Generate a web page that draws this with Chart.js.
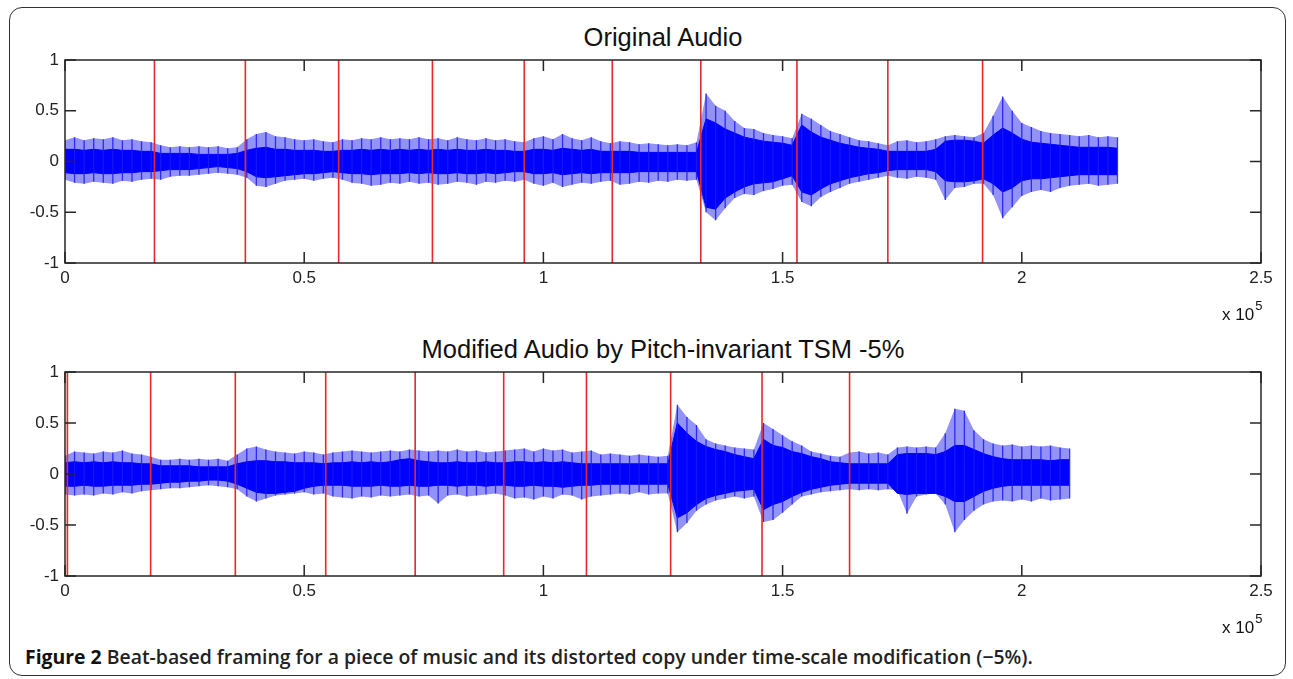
<!DOCTYPE html>
<html>
<head>
<meta charset="utf-8">
<script src="https://cdn.jsdelivr.net/npm/chart.js@4.4.1/dist/chart.umd.min.js"></script>
<style>
  html, body { margin: 0; padding: 0; background: #fff; }
  body { width: 1293px; height: 679px; position: relative; overflow: hidden; font-family: "Liberation Sans", Arial, sans-serif; }
  .frame { position: absolute; left: 9px; top: 7px; width: 1277px; height: 669px; border: 1.5px solid #333; border-radius: 13px; box-sizing: border-box; }
  .panel { position: absolute; left: 0; width: 1293px; height: 312px; }
  .title { position: absolute; left: 65px; width: 1196px; text-align: center; font-size: 25.5px; line-height: 28px; color: #111; }
  .scale { position: absolute; left: 1222px; font-size: 17px; line-height: 20px; color: #111; }
  .scale span { position: relative; top: -10px; font-size: 13px; margin-left: 1px; }
  .caption { position: absolute; left: 25px; top: 644px; font-family: "Open Sans", sans-serif; font-size: 19.4px; line-height: 26px; font-weight: 600; color: #222; white-space: nowrap; }
  .caption b { font-weight: 700; color: #111; }
</style>
</head>
<body>
<div class="frame"></div>
<div class="title" style="top:23px">Original Audio</div>
<div class="title" style="top:335px">Modified Audio by Pitch-invariant TSM -5%</div>
<div class="panel" style="top:0"><canvas id="topChart" width="1293" height="312"></canvas></div>
<div class="panel" style="top:312px"><canvas id="bottomChart" width="1293" height="312"></canvas></div>
<div class="scale" style="top:305px">x 10<span>5</span></div>
<div class="scale" style="top:618px">x 10<span>5</span></div>
<div class="caption"><b>Figure 2</b> Beat-based framing for a piece of music and its distorted copy under time-scale modification (−5%).</div>
<script>
// axes (x in units of 10^5 samples)
const xTicks = [0, 0.5, 1, 1.5, 2, 2.5];
const xTickLabels = ['0', '0.5', '1', '1.5', '2', '2.5'];
const yTicks = [-1, -0.5, 0, 0.5, 1];
const yTickLabels = ['-1', '-0.5', '0', '0.5', '1'];

// waveform envelope read every 0.02 (x 10^5 samples)
const gridStep = 0.02;

// beat positions (red lines)
const origBeats = [0.187, 0.377, 0.572, 0.768, 0.960, 1.144, 1.329, 1.530, 1.720, 1.918];
const tsmBeats = [0.005, 0.179, 0.356, 0.545, 0.732, 0.917, 1.090, 1.266, 1.457, 1.640];

// original audio: spike peaks and solid core
const origHi = [
  .21,.24,.21,.23,.22,.24,.21,.22,.20,.19, .16,.14,.15,.14,.15,.14,.15,.13,.14,.22,
  .27,.29,.25,.24,.22,.21,.22,.20,.19,.22, .21,.23,.22,.24,.22,.23,.22,.24,.22,.23,
  .21,.24,.22,.21,.23,.21,.22,.20,.19,.23, .25,.22,.27,.23,.21,.24,.20,.18,.20,.19,
  .17,.18,.17,.16,.17,.16,.19,.67,.55,.50, .40,.33,.32,.28,.26,.25,.23,.47,.42,.36,
  .30,.27,.24,.21,.20,.18,.16,.20,.21,.19, .20,.22,.25,.26,.25,.24,.28,.45,.64,.50,
  .38,.34,.30,.28,.27,.26,.25,.26,.24,.25,.24
];
const origLo = [
  -.18,-.21,-.22,-.20,-.21,-.22,-.19,-.20,-.18,-.17, -.18,-.15,-.14,-.14,-.13,-.12,-.11,-.12,-.13,-.16,
  -.24,-.25,-.22,-.19,-.18,-.17,-.19,-.17,-.16,-.18, -.21,-.22,-.24,-.23,-.21,-.22,-.20,-.22,-.21,-.23,
  -.22,-.20,-.21,-.23,-.20,-.21,-.19,-.20,-.18,-.22, -.24,-.21,-.25,-.23,-.21,-.22,-.20,-.19,-.23,-.22,
  -.20,-.21,-.19,-.20,-.18,-.19,-.18,-.50,-.58,-.46, -.36,-.32,-.33,-.29,-.27,-.24,-.23,-.40,-.44,-.35,
  -.30,-.26,-.22,-.20,-.18,-.16,-.14,-.16,-.17,-.15, -.16,-.18,-.38,-.26,-.25,-.22,-.22,-.33,-.56,-.45,
  -.34,-.30,-.28,-.30,-.26,-.24,-.23,-.22,-.24,-.23,-.22
];
const origCoreHi = [
  .12,.12,.11,.12,.11,.12,.11,.11,.10,.10, .08,.08,.08,.08,.07,.07,.07,.07,.08,.11,
  .13,.14,.12,.12,.11,.11,.11,.10,.10,.11, .11,.12,.11,.12,.11,.12,.11,.12,.11,.12,
  .11,.12,.11,.11,.12,.11,.11,.10,.10,.12, .12,.11,.13,.12,.11,.12,.10,.10,.10,.10,
  .09,.09,.09,.09,.09,.09,.09,.42,.38,.32, .28,.24,.22,.20,.19,.18,.16,.36,.29,.24,
  .21,.18,.16,.14,.13,.12,.10,.10,.10,.10, .10,.12,.20,.21,.21,.20,.18,.26,.33,.28,
  .22,.19,.18,.17,.16,.15,.14,.14,.14,.14,.13
];
const origCoreLo = [
  -.11,-.12,-.12,-.11,-.12,-.12,-.11,-.11,-.10,-.10, -.09,-.08,-.08,-.08,-.07,-.06,-.05,-.06,-.07,-.10,
  -.15,-.16,-.15,-.14,-.13,-.12,-.12,-.11,-.10,-.11, -.12,-.12,-.13,-.12,-.12,-.12,-.11,-.12,-.11,-.12,
  -.12,-.11,-.12,-.12,-.11,-.12,-.11,-.10,-.10,-.12, -.12,-.11,-.13,-.12,-.11,-.12,-.11,-.11,-.11,-.11,
  -.10,-.10,-.10,-.10,-.10,-.10,-.10,-.45,-.47,-.36, -.30,-.25,-.22,-.21,-.20,-.17,-.14,-.30,-.33,-.27,
  -.22,-.19,-.16,-.14,-.12,-.11,-.09,-.08,-.08,-.08, -.08,-.10,-.19,-.20,-.20,-.19,-.17,-.22,-.30,-.26,
  -.19,-.17,-.17,-.16,-.15,-.14,-.13,-.13,-.13,-.13,-.13
];

// modified audio (TSM -5%)
const tsmHi = [
  .18,.22,.21,.20,.22,.21,.23,.20,.19,.17, .14,.14,.15,.14,.15,.14,.15,.13,.19,.25,
  .27,.24,.22,.21,.20,.22,.21,.19,.21,.22, .23,.22,.21,.22,.23,.22,.24,.23,.22,.23,
  .22,.24,.22,.23,.21,.22,.23,.24,.25,.22, .25,.23,.24,.21,.22,.23,.19,.20,.19,.18,
  .19,.18,.17,.18,.68,.56,.48,.34,.30,.28, .26,.25,.24,.50,.44,.38,.32,.28,.22,.20,
  .18,.17,.21,.22,.20,.21,.19,.26,.27,.26, .27,.26,.40,.64,.62,.43,.34,.30,.28,.29,
  .27,.28,.27,.28,.26,.25
];
const tsmLo = [
  -.20,-.21,-.20,-.21,-.19,-.20,-.18,-.19,-.17,-.16, -.15,-.14,-.14,-.13,-.12,-.11,-.12,-.13,-.15,-.22,
  -.27,-.24,-.21,-.20,-.19,-.18,-.20,-.19,-.22,-.23, -.24,-.22,-.23,-.21,-.22,-.21,-.20,-.22,-.21,-.29,
  -.21,-.20,-.22,-.21,-.20,-.19,-.21,-.24,-.23,-.25, -.22,-.24,-.20,-.21,-.25,-.22,-.21,-.20,-.19,-.20,
  -.18,-.20,-.19,-.19,-.57,-.48,-.36,-.30,-.26,-.24, -.22,-.24,-.22,-.47,-.45,-.38,-.30,-.22,-.20,-.18,
  -.17,-.16,-.15,-.16,-.15,-.16,-.15,-.16,-.39,-.22, -.20,-.19,-.30,-.57,-.45,-.36,-.30,-.27,-.26,-.27,
  -.25,-.27,-.24,-.26,-.25,-.24
];
const tsmCoreHi = [
  .11,.12,.11,.12,.11,.12,.11,.11,.10,.10, .08,.08,.08,.08,.07,.07,.07,.07,.10,.12,
  .13,.13,.12,.12,.11,.11,.11,.10,.11,.11, .12,.11,.12,.11,.12,.14,.15,.13,.12,.11,
  .11,.12,.11,.11,.12,.11,.11,.12,.12,.11, .12,.11,.12,.11,.10,.10,.10,.10,.10,.10,
  .10,.10,.10,.10,.50,.40,.32,.27,.24,.22, .19,.17,.15,.34,.28,.26,.22,.20,.17,.15,
  .12,.11,.10,.10,.10,.10,.10,.19,.20,.20, .20,.19,.22,.28,.28,.24,.20,.17,.15,.14,
  .14,.14,.14,.13,.14,.14
];
const tsmCoreLo = [
  -.12,-.12,-.11,-.12,-.12,-.11,-.11,-.11,-.10,-.10, -.09,-.08,-.08,-.07,-.07,-.06,-.06,-.07,-.10,-.14,
  -.18,-.19,-.19,-.18,-.17,-.14,-.12,-.11,-.11,-.11, -.12,-.12,-.12,-.11,-.12,-.12,-.11,-.12,-.12,-.11,
  -.11,-.12,-.11,-.11,-.12,-.11,-.11,-.12,-.12,-.11, -.12,-.12,-.13,-.12,-.11,-.11,-.10,-.10,-.10,-.10,
  -.10,-.10,-.10,-.10,-.43,-.38,-.30,-.24,-.21,-.19, -.17,-.16,-.15,-.35,-.30,-.27,-.22,-.18,-.15,-.13,
  -.11,-.10,-.09,-.09,-.09,-.09,-.09,-.19,-.20,-.19, -.19,-.19,-.22,-.27,-.27,-.22,-.17,-.14,-.12,-.11,
  -.11,-.11,-.11,-.11,-.11,-.11
];

const blue = '#0000ff';
const fringe = 'rgba(40,40,240,0.5)';
const red = '#e8282b';
const tickFont = { family: 'Liberation Sans', size: 17 };

// MATLAB-style box with inward ticks
const boxPlugin = {
  id: 'matlabBox',
  afterDraw(chart) {
    const { ctx, chartArea: a, scales: { x, y } } = chart;
    const len = 11;
    ctx.save();
    ctx.strokeStyle = '#262626';
    ctx.lineWidth = 1.5;
    ctx.strokeRect(a.left, a.top, a.right - a.left, a.bottom - a.top);
    ctx.beginPath();
    xTicks.forEach(v => {
      const px = x.getPixelForValue(v);
      ctx.moveTo(px, a.bottom); ctx.lineTo(px, a.bottom - len);
      ctx.moveTo(px, a.top); ctx.lineTo(px, a.top + len);
    });
    yTicks.forEach(v => {
      const py = y.getPixelForValue(v);
      ctx.moveTo(a.left, py); ctx.lineTo(a.left + len, py);
      ctx.moveTo(a.right, py); ctx.lineTo(a.right - len, py);
    });
    ctx.stroke();
    ctx.restore();
  }
};

function points(xs, ys) {
  return xs.map((x, i) => ({ x, y: ys[i] }));
}

function makeChart(id, hi, lo, coreHi, coreLo, beats, padBottom) {
  const xs = hi.map((_, i) => i * gridStep);
  const spikes = [];
  xs.forEach((x, i) => {
    spikes.push({ x, y: lo[i] }, { x, y: hi[i] }, { x, y: null });
  });
  const beatLines = [];
  beats.forEach(b => {
    beatLines.push({ x: b, y: -1 }, { x: b, y: 1 }, { x: b, y: null });
  });
  const line = { pointRadius: 0, tension: 0, spanGaps: false };

  return new Chart(document.getElementById(id), {
    type: 'line',
    data: {
      datasets: [
        { ...line, data: beatLines, borderColor: red, borderWidth: 1.6, fill: false, order: 0 },
        { ...line, data: spikes, borderColor: 'rgba(25,25,240,0.85)', borderWidth: 1.3, fill: false, order: 1 },
        { ...line, data: points(xs, coreHi), borderColor: blue, borderWidth: 1, backgroundColor: blue, fill: '+1', order: 2 },
        { ...line, data: points(xs, coreLo), borderColor: blue, borderWidth: 1, fill: false, order: 3 },
        { ...line, data: points(xs, hi), borderWidth: 0, borderColor: 'rgba(0,0,0,0)', backgroundColor: fringe, fill: '+1', order: 4 },
        { ...line, data: points(xs, lo), borderWidth: 0, borderColor: 'rgba(0,0,0,0)', fill: false, order: 5 }
      ]
    },
    options: {
      responsive: false,
      animation: false,
      layout: { padding: { left: 0, top: 60, right: 32, bottom: padBottom } },
      plugins: { legend: { display: false }, tooltip: { enabled: false } },
      scales: {
        x: {
          type: 'linear', min: 0, max: 2.5,
          grid: { display: false, drawTicks: false },
          border: { display: false },
          afterBuildTicks: s => { s.ticks = xTicks.map(v => ({ value: v })); },
          afterFit: s => { s.height = 30; },
          ticks: { font: tickFont, color: '#222', padding: 5, maxRotation: 0, autoSkip: false,
                   callback: (v, i) => xTickLabels[i] }
        },
        y: {
          type: 'linear', min: -1, max: 1,
          grid: { display: false, drawTicks: false },
          border: { display: false },
          afterBuildTicks: s => { s.ticks = yTicks.map(v => ({ value: v })); },
          afterFit: s => { s.width = 65; },
          ticks: { font: tickFont, color: '#222', padding: 6, autoSkip: false,
                   callback: (v, i) => yTickLabels[i] }
        }
      }
    },
    plugins: [boxPlugin]
  });
}

makeChart('topChart', origHi, origLo, origCoreHi, origCoreLo, origBeats, 19);
makeChart('bottomChart', tsmHi, tsmLo, tsmCoreHi, tsmCoreLo, tsmBeats, 18);
</script>
</body>
</html>
